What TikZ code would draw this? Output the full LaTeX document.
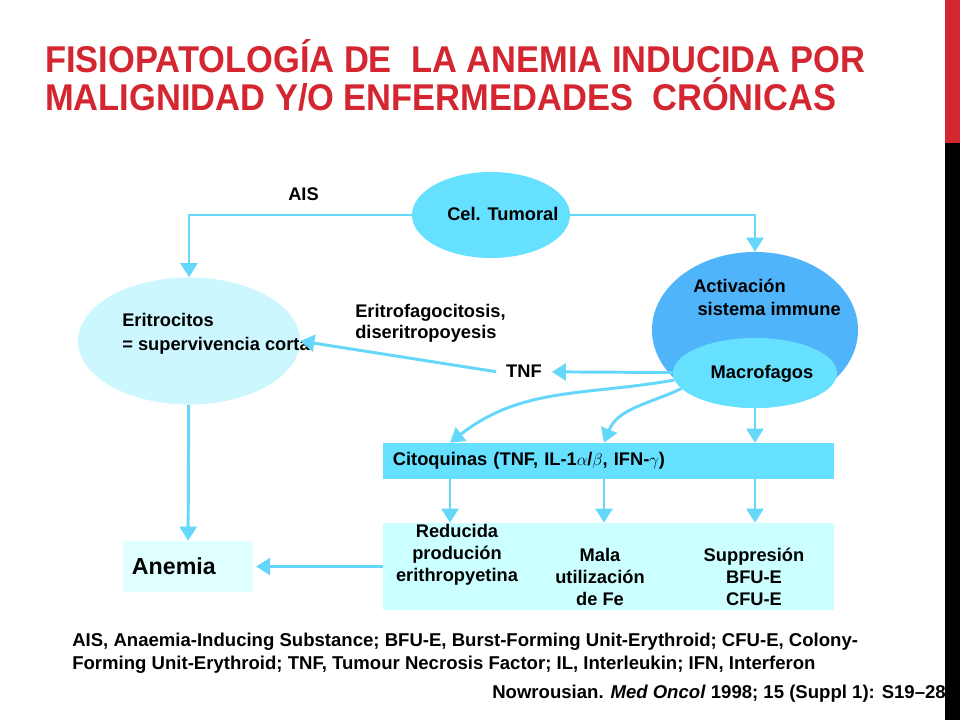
\documentclass[tikz,border=0pt]{standalone}
\usepackage{fontspec}
\setmainfont{Liberation Sans}
\newfontfamily\titlefont[FakeStretch=0.925]{Liberation Sans}
\usetikzlibrary{arrows.meta,shapes.geometric}
\definecolor{cellcyan}{RGB}{102,224,255}
\definecolor{linkcyan}{RGB}{100,215,250}
\definecolor{immuneblue}{RGB}{80,180,250}
\definecolor{eritrofill}{RGB}{204,247,255}
\definecolor{efectosfill}{RGB}{204,255,255}
\definecolor{anemiafill}{RGB}{224,255,255}
\definecolor{titlered}{RGB}{212,38,48}
\begin{document}
\begin{tikzpicture}
 [x=0.025cm, y=-0.025cm,
  cell node/.style={ellipse, fill=cellcyan, inner sep=0pt},
  box node/.style={rectangle, inner sep=0pt},
  text node/.style={inner sep=0pt, font=\bfseries\fontsize{13}{15.5}\selectfont},
  title node/.style={inner sep=0pt, anchor=base west, text=titlered, font=\titlefont\bfseries\fontsize{26.5}{30}\selectfont},
  foot node/.style={inner sep=0pt, anchor=base west, font=\bfseries\fontsize{13.2}{16}\selectfont},
  link/.style={draw=linkcyan, line width=2.1pt, -{Triangle[width=12pt,length=10pt]}}]

\useasboundingbox (0,0) rectangle (960,720);
\fill[white] (0,0) rectangle (960,720);

\node[title node] (title1) at (45,73) {FISIOPATOLOGÍA DE~~LA ANEMIA INDUCIDA POR};
\node[title node] (title2) at (45,111) {MALIGNIDAD Y/O ENFERMEDADES~~CRÓNICAS};

\node[cell node, minimum width=3.95cm, minimum height=2.15cm] (tumor) at (491,215) {};
\node[text node, anchor=base west] (tumortxt) at (447,221) {Cel. Tumoral};
\node[text node, anchor=base west] (ais) at (288,201) {AIS};

\node[cell node, fill=eritrofill, minimum width=5.55cm, minimum height=3.175cm] (eritro) at (189,341) {};
\node[text node, anchor=west, align=left, font=\bfseries\fontsize{13}{17}\selectfont] (eritrotxt) at (122,334) {Eritrocitos\\= supervivencia corta};

\node[cell node, fill=immuneblue, minimum width=5.15cm, minimum height=3.9cm] (immune) at (755,330) {};
\node[cell node, minimum width=4.1cm, minimum height=1.75cm] (macro) at (755,373) {};
\node[text node, anchor=west, align=left, font=\bfseries\fontsize{13}{16.3}\selectfont] (immunetxt) at (693,297) {Activación\\\hspace*{3pt}sistema immune};
\node[text node, anchor=base] (macrotxt) at (762,379) {Macrofagos};

\node[text node, anchor=west, align=left, font=\bfseries\fontsize{13}{15}\selectfont] (fago) at (355,323) {Eritrofagocitosis,\\diseritropoyesis};
\node[text node, anchor=base, inner xsep=7pt] (tnf) at (524,378) {TNF};

\node[box node, fill=cellcyan, minimum width=11.275cm, minimum height=0.9cm, text width=10.775cm, align=left, font=\bfseries\fontsize{13}{15}\selectfont] (cito) at (608.5,461) {Citoquinas (TNF, IL-1$\alpha$/$\beta$, IFN-$\gamma$)};

\node[box node, fill=efectosfill, minimum width=11.275cm, minimum height=2.175cm] (efectos) at (608.5,566.5) {};
\node[text node, align=center] (reduc) at (457,555) {Reducida\\produción\\erithropyetina};
\node[text node, align=center] (mala) at (600,577) {Mala\\utilización\\de Fe};
\node[text node, align=center] (supr) at (754,577) {Suppresión\\BFU-E\\CFU-E};

\node[box node, fill=anemiafill, minimum width=3.25cm, minimum height=1.275cm, text width=2.8cm, align=left, font=\bfseries\fontsize{16.5}{19}\selectfont] (anemia) at (188,566.5) {Anemia};

\coordinate (col1) at (450,0);
\coordinate (col2) at (604,0);
\coordinate (col3) at (755,0);

\draw[link] (tumor) -| (eritro);
\draw[link] (tumor) -| (immune);
\draw[link] (macro) -- (tnf);
\draw[link] (tnf.west) -- (eritro.east);
\draw[link] (macro.185) to[out=190, in=38] (cito.north -| col1);
\draw[link] (macro.192) to[out=205, in=68] (cito.north -| col2);
\draw[link] (macro) -- (cito.north -| col3);
\foreach \c in {col1,col2,col3}
  \draw[link] (cito.south -| \c) -- (efectos.north -| \c);
\draw[link, shorten >=2pt] (efectos.west |- anemia) -- (anemia);
\draw[link] (eritro) -- (anemia);

\node[foot node] (foot1) at (72,646) {AIS, Anaemia-Inducing Substance; BFU-E, Burst-Forming Unit-Erythroid; CFU-E, Colony-};
\node[foot node] (foot2) at (72,669) {Forming Unit-Erythroid; TNF, Tumour Necrosis Factor; IL, Interleukin; IFN, Interferon};
\node[foot node] (cita) at (492,698) {Nowrousian. \textit{Med Oncol} 1998; 15 (Suppl 1): S19–28};

\fill[titlered] (945,0) rectangle (960,143);
\fill[black] (945,143) rectangle (960,720);
\end{tikzpicture}
\end{document}
